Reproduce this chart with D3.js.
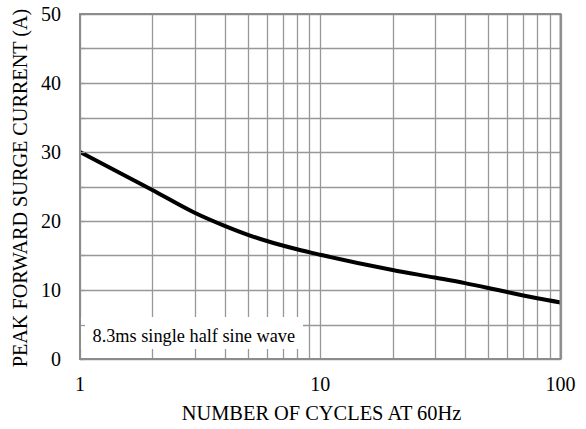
<!DOCTYPE html>
<html>
<head>
<meta charset="utf-8">
<script src="https://cdn.jsdelivr.net/npm/d3@7"></script>
<style>
  html, body { margin: 0; padding: 0; background: #fff; }
  svg { display: block; }
</style>
</head>
<body>
<svg id="chart" width="586" height="429"></svg>
<script>
// ---- data ----
const cycles  = [1, 2, 3, 4, 5, 6, 8, 10, 20, 30, 40, 50, 60, 70, 80, 100];
const current = [30, 24.5, 21.2, 19.3, 18.0, 17.1, 15.9, 15.1, 12.9, 11.8, 11.0, 10.3, 9.7, 9.2, 8.8, 8.2];
const xTickLabels = [1, 10, 100];
const yTickLabels = [0, 10, 20, 30, 40, 50];
const yGridValues = [0, 5, 10, 15, 20, 25, 30, 35, 40, 45, 50];
const xGridValues = [1, 2, 3, 4, 5, 6, 7, 8, 9, 10, 20, 30, 40, 50, 60, 70, 80, 90, 100];
const xTitle = "NUMBER OF CYCLES AT 60Hz";
const yTitle = "PEAK FORWARD SURGE CURRENT (A)";
const note = "8.3ms single half sine wave";

// ---- pick an installed serif font ----
function hasFont(name) {
  const c = document.createElement("canvas").getContext("2d");
  const s = "NUMBER OF CYCLES wmli 0123";
  const out = [];
  for (const base of ["monospace", "sans-serif"]) {
    c.font = "40px " + base;
    const w0 = c.measureText(s).width;
    c.font = "40px '" + name + "', " + base;
    out.push(c.measureText(s).width !== w0);
  }
  return out[0] || out[1];
}
const candidates = ["Liberation Serif", "Tinos", "Times New Roman", "Noto Serif", "DejaVu Serif"];
const found = candidates.find(hasFont);
const FONT = (found ? "'" + found + "', " : "") + "serif";

// ---- layout ----
const L = 80, R = 560.5, T = 14, B = 359;
const svg = d3.select("#chart").attr("font-family", FONT);
const x = d3.scaleLog().domain([1, 100]).range([L, R]);
const y = d3.scaleLinear().domain([0, 50]).range([B, T]);
const gridColor = "#989898";

// grid
const g = svg.append("g");
g.selectAll("line.v").data(xGridValues).enter().append("line")
  .attr("x1", d => Math.round(x(d)) + 0.5).attr("x2", d => Math.round(x(d)) + 0.5)
  .attr("y1", T).attr("y2", B)
  .attr("stroke", gridColor).attr("stroke-width", 1.3);
g.selectAll("line.h").data(yGridValues).enter().append("line")
  .attr("y1", d => Math.round(y(d)) + 0.5).attr("y2", d => Math.round(y(d)) + 0.5)
  .attr("x1", L).attr("x2", R)
  .attr("stroke", gridColor).attr("stroke-width", 1.3);

// curve
const line = d3.line().x((d, i) => x(d)).y((d, i) => y(current[i])).curve(d3.curveMonotoneX);
svg.append("path").datum(cycles).attr("d", line)
  .attr("fill", "none").attr("stroke", "#000").attr("stroke-width", 4)
  .attr("stroke-linejoin", "round");

// note box
svg.append("rect").attr("x", L + 1).attr("y", 317).attr("width", 222).attr("height", 32)
  .attr("fill", "#fff");
svg.append("text").attr("x", 92.5).attr("y", 341.5).attr("font-size", 18.3)
  .attr("font-family", FONT).text(note);

// left inward ticks
svg.selectAll("line.lt").data(yGridValues).enter().append("line")
  .attr("x1", L).attr("x2", L + 5)
  .attr("y1", d => Math.round(y(d)) + 0.5).attr("y2", d => Math.round(y(d)) + 0.5)
  .attr("stroke", gridColor).attr("stroke-width", 1.3);

// frame
svg.append("rect").attr("x", L).attr("y", T).attr("width", R - L).attr("height", B - T)
  .attr("fill", "none").attr("stroke", "#8c8c8c").attr("stroke-width", 2);

// y tick labels
svg.selectAll("text.yl").data(yTickLabels).enter().append("text")
  .attr("font-family", FONT)
  .attr("x", 61).attr("y", d => y(d)).attr("dy", "0.35em")
  .attr("text-anchor", "end").attr("font-size", 20).text(d => d);

// x tick labels
svg.selectAll("text.xl").data(xTickLabels).enter().append("text")
  .attr("font-family", FONT)
  .attr("x", d => x(d)).attr("y", 391)
  .attr("text-anchor", "middle").attr("font-size", 20).text(d => d);

// titles
svg.append("text").attr("x", 321.5).attr("y", 420).attr("text-anchor", "middle")
  .attr("font-family", FONT).attr("font-size", 20.4).text(xTitle);
svg.append("text").attr("transform", "translate(26.5,188) rotate(-90)")
  .attr("font-family", FONT)
  .attr("text-anchor", "middle").attr("font-size", 20.2).text(yTitle);
</script>
</body>
</html>
